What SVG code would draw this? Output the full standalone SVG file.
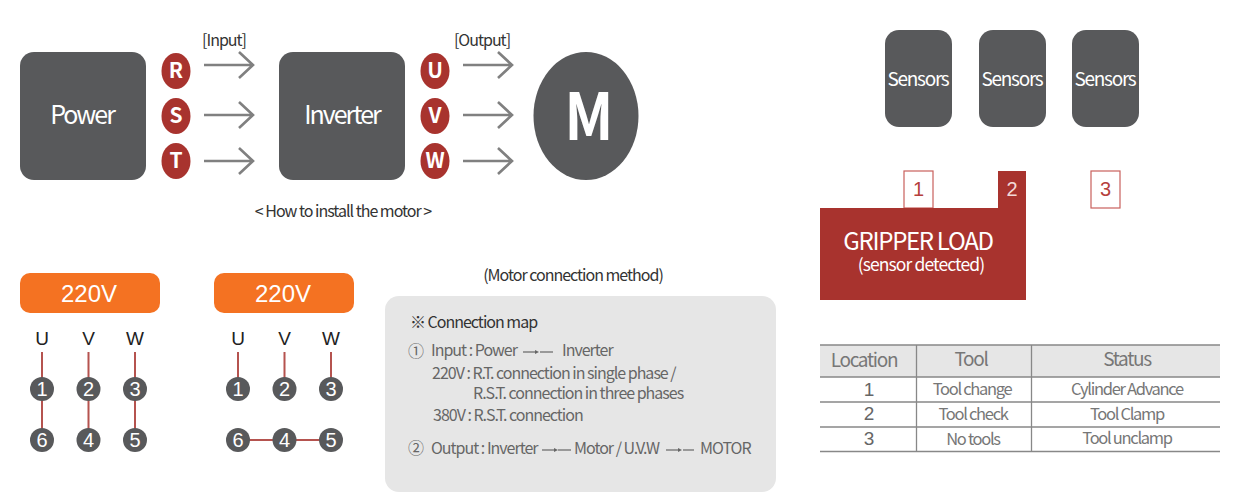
<svg xmlns="http://www.w3.org/2000/svg" width="1240" height="500" viewBox="0 0 1240 500">
<style>
text{font-family:"Noto Sans CJK KR","Noto Sans",sans-serif;text-anchor:middle}
.box{fill:#58595b}
.big{fill:#fff;font-size:25px;letter-spacing:-2px}
.red{fill:#a8332e}
.pin{fill:#fff;font-size:21px;font-weight:700}
.arr{fill:none;stroke:#808080;stroke-width:2.6}
.lbl{fill:#333;font-size:16px;letter-spacing:-1px}
.orange{fill:#f47222}
.volt{fill:#fff;font-size:24px;font-family:"Liberation Sans",sans-serif}
.uvw{fill:#222;font-size:19px;font-family:"Liberation Sans",sans-serif}
.wire{stroke:#b5534f;stroke-width:2;fill:none}
.num{fill:#fff;font-size:20px;font-family:"Liberation Sans",sans-serif}
.sens{fill:#fff;font-size:19px;letter-spacing:-1.3px}
.pnl{fill:#666;font-size:16px;letter-spacing:-1px;text-anchor:start}
.tag{fill:#fff;stroke:#c9605c;stroke-width:1.2}
.tagt{fill:#b5403b;font-size:20px;font-family:"Liberation Sans",sans-serif}
.rule{stroke:#888;stroke-width:1.3;fill:none}
.th{fill:#777;font-size:19px;letter-spacing:-1.3px}
.td{fill:#777;font-size:16.500px;letter-spacing:-1.3px}
.tn{fill:#666;font-size:19px;font-family:"Liberation Sans",sans-serif}
.mini{stroke:#666;stroke-width:1.200;fill:none}
.head{marker-end:url(#mini)}
</style>
<defs>
<g id="arrow"><path class="arr" d="M0 0H49M35-13 49 0 35 13"/></g>
<marker id="mini" markerWidth="5" markerHeight="5" refX="1" refY="2" orient="auto" markerUnits="userSpaceOnUse"><path d="M0 0 4 2 0 4z" fill="#666"/></marker>
</defs>
<g id="connectors">
<use href="#arrow" x="204" y="65"/><use href="#arrow" x="204" y="115"/><use href="#arrow" x="204" y="161"/>
<use href="#arrow" x="463" y="65"/><use href="#arrow" x="463" y="115"/><use href="#arrow" x="463" y="161"/>
<path class="wire" d="M42 352V440M88.500 352V440M135 352V440M238 352V389M284.500 352V389M331 352V389M238 440H331"/>
</g>
<g id="power"><rect class="box" x="20" y="52" width="126" height="128" rx="14"/><text class="big" x="82" y="124">Power</text></g>
<g id="inverter"><rect class="box" x="279" y="52" width="126" height="128" rx="14"/><text class="big" x="342" y="124">Inverter</text></g>
<g id="motor"><ellipse class="box" cx="586" cy="116" rx="52.500" ry="64"/><text transform="translate(589 140) scale(.88 1)" fill="#fff" font-size="65" font-weight="700">M</text></g>
<g id="pin-r"><ellipse class="red" cx="176" cy="71" rx="14.500" ry="18"/><text class="pin" x="176" y="78">R</text></g>
<g id="pin-s"><ellipse class="red" cx="176" cy="116" rx="14.500" ry="18"/><text class="pin" x="176" y="123">S</text></g>
<g id="pin-t"><ellipse class="red" cx="176" cy="161" rx="14.500" ry="18"/><text class="pin" x="176" y="168">T</text></g>
<g id="pin-u"><ellipse class="red" cx="435" cy="71" rx="14.500" ry="18"/><text class="pin" x="435" y="78">U</text></g>
<g id="pin-v"><ellipse class="red" cx="435" cy="116" rx="14.500" ry="18"/><text class="pin" x="435" y="123">V</text></g>
<g id="pin-w"><ellipse class="red" cx="435" cy="161" rx="14.500" ry="18"/><text class="pin" x="435" y="168">W</text></g>
<text class="lbl" x="224" y="46">[Input]</text>
<text class="lbl" x="482" y="46">[Output]</text>
<text class="lbl" x="343" y="217">&lt; How to install the motor &gt;</text>
<g id="v220-a"><rect class="orange" x="20" y="273" width="140" height="40" rx="10"/><text class="volt" x="89" y="302">220V</text></g>
<g id="v220-b"><rect class="orange" x="214" y="273" width="140" height="40" rx="10"/><text class="volt" x="283" y="302">220V</text></g>
<g id="uvw">
<text class="uvw" x="42" y="345">U</text><text class="uvw" x="88.500" y="345">V</text><text class="uvw" x="135" y="345">W</text>
<text class="uvw" x="238" y="345">U</text><text class="uvw" x="284.500" y="345">V</text><text class="uvw" x="331" y="345">W</text>
</g>
<g id="terminals">
<g id="t-a1"><circle class="box" cx="42" cy="389" r="12"/><text class="num" x="42" y="396">1</text></g>
<g id="t-a2"><circle class="box" cx="88.500" cy="389" r="12"/><text class="num" x="88.500" y="396">2</text></g>
<g id="t-a3"><circle class="box" cx="135" cy="389" r="12"/><text class="num" x="135" y="396">3</text></g>
<g id="t-a6"><circle class="box" cx="42" cy="440" r="12"/><text class="num" x="42" y="447">6</text></g>
<g id="t-a4"><circle class="box" cx="88.500" cy="440" r="12"/><text class="num" x="88.500" y="447">4</text></g>
<g id="t-a5"><circle class="box" cx="135" cy="440" r="12"/><text class="num" x="135" y="447">5</text></g>
<g id="t-b1"><circle class="box" cx="238" cy="389" r="12"/><text class="num" x="238" y="396">1</text></g>
<g id="t-b2"><circle class="box" cx="284.500" cy="389" r="12"/><text class="num" x="284.500" y="396">2</text></g>
<g id="t-b3"><circle class="box" cx="331" cy="389" r="12"/><text class="num" x="331" y="396">3</text></g>
<g id="t-b6"><circle class="box" cx="238" cy="440" r="12"/><text class="num" x="238" y="447">6</text></g>
<g id="t-b4"><circle class="box" cx="284.500" cy="440" r="12"/><text class="num" x="284.500" y="447">4</text></g>
<g id="t-b5"><circle class="box" cx="331" cy="440" r="12"/><text class="num" x="331" y="447">5</text></g>
</g>
<text class="lbl" x="573" y="281">(Motor connection method)</text>
<g id="panel">
<rect x="385" y="296" width="391" height="196" rx="14" fill="#e6e6e6"/>
<text class="pnl" x="410" y="328" style="fill:#333">※ Connection map</text>
<text class="pnl" x="408" y="357">①</text>
<text class="pnl" x="431" y="356">Input : Power</text>
<path class="mini head" d="M523 352H536"/><path class="mini" d="M540 352H553"/>
<text class="pnl" x="562" y="356">Inverter</text>
<text class="pnl" x="432" y="379">220V : R.T. connection in single phase /</text>
<text class="pnl" x="473" y="399">R.S.T. connection in three phases</text>
<text class="pnl" x="433" y="421">380V : R.S.T. connection</text>
<text class="pnl" x="408" y="454">②</text>
<text class="pnl" x="431" y="454">Output : Inverter</text>
<path class="mini head" d="M542 450H555"/><path class="mini" d="M558 450H571"/>
<text class="pnl" x="574" y="454">Motor / U.V.W</text>
<path class="mini head" d="M666 450H679"/><path class="mini" d="M683 450H694"/>
<text class="pnl" x="700" y="454">MOTOR</text>
</g>
<g id="sensor-1"><rect class="box" x="885" y="30" width="67" height="97" rx="14"/><text class="sens" x="918" y="86">Sensors</text></g>
<g id="sensor-2"><rect class="box" x="979" y="30" width="67" height="97" rx="14"/><text class="sens" x="1012" y="86">Sensors</text></g>
<g id="sensor-3"><rect class="box" x="1072" y="30" width="67" height="97" rx="14"/><text class="sens" x="1105" y="86">Sensors</text></g>
<g id="tag-1"><rect class="tag" x="904" y="171" width="29" height="37"/><text class="tagt" x="918.500" y="196">1</text></g>
<g id="tag-3"><rect class="tag" x="1091" y="171" width="29" height="37"/><text class="tagt" x="1105.500" y="196">3</text></g>
<g id="load"><path class="red" d="M820 208H998V171H1026V300H820z"/>
<text x="1012" y="196" fill="#f3d9d7" font-size="20" style="font-family:'Liberation Sans',sans-serif">2</text>
<text x="918" y="250" fill="#fff" font-size="24" letter-spacing="-1.300">GRIPPER LOAD</text>
<text x="921" y="271" fill="#fff" font-size="17.500" letter-spacing="-.9">(sensor detected)</text></g>
<g id="table">
<rect x="820" y="345" width="400" height="32" fill="#e6e6e6"/>
<path class="rule" d="M820 345H1220M820 377H1220M820 402H1220M820 427H1220M820 451.500H1220M916.500 345V451.500M1031.500 345V451.500"/>
<text class="th" x="864" y="367">Location</text><text class="th" x="971" y="366">Tool</text><text class="th" x="1127" y="366">Status</text>
<text class="tn" x="869" y="396">1</text><text class="td" x="972" y="395">Tool change</text><text class="td" x="1127" y="395">Cylinder Advance</text>
<text class="tn" x="869" y="420">2</text><text class="td" x="973" y="420">Tool check</text><text class="td" x="1127" y="420">Tool Clamp</text>
<text class="tn" x="869" y="445">3</text><text class="td" x="973" y="445">No tools</text><text class="td" x="1127" y="444">Tool unclamp</text>
</g>
</svg>
